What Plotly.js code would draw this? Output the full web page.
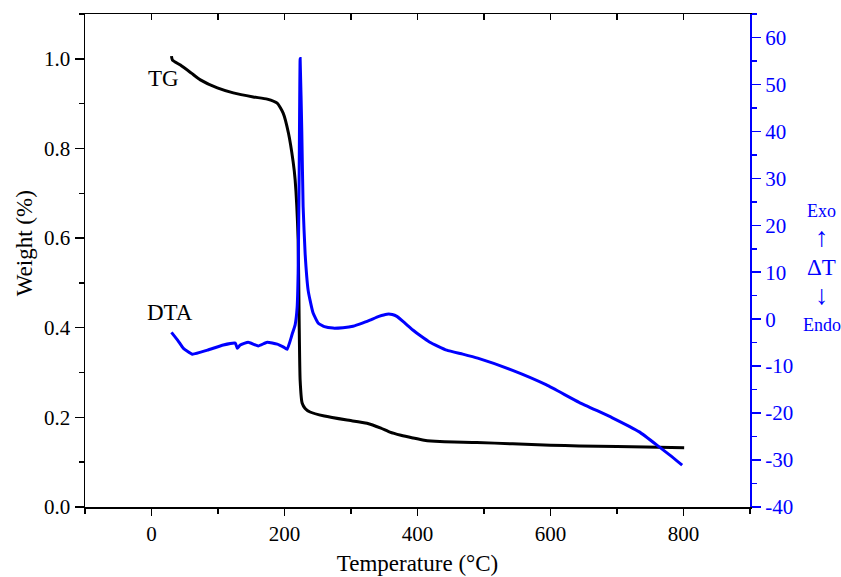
<!DOCTYPE html>
<html>
<head>
<meta charset="utf-8">
<script src="https://cdn.plot.ly/plotly-3.0.1.min.js"></script>
<style>
html,body{margin:0;padding:0;background:#fff}
#chart{width:841px;height:577px}
#chart text{font-family:"Liberation Serif","Times New Roman",serif !important}
</style>
</head>
<body>
<div id="chart"></div>
<script>
// TG (weight fraction) vs temperature
const tgTemp = [30, 31.5, 43.5, 60, 73.5, 99, 123, 153, 174, 189, 198, 206, 213, 216, 220.5, 222, 223.5, 226.5, 231, 238.5, 260, 294, 324, 345, 358.5, 375, 393, 410, 433.5, 489, 543, 600, 643, 700, 743, 801];
const tgWeight = [1.006, 0.997, 0.986, 0.968, 0.953, 0.935, 0.924, 0.915, 0.910, 0.901, 0.879, 0.834, 0.770, 0.730, 0.596, 0.42, 0.283, 0.232, 0.220, 0.212, 0.203, 0.194, 0.187, 0.176, 0.167, 0.160, 0.154, 0.149, 0.146, 0.144, 0.141, 0.138, 0.136, 0.135, 0.134, 0.132];
// DTA (ΔT) vs temperature
const dtaTemp = [30, 40, 48, 61.5, 84, 108, 126, 129, 133.5, 145.5, 160.5, 174, 189, 198, 204, 211.5, 216, 219, 220.5, 222, 223.5, 226, 228, 231, 235.5, 238.5, 243, 250.5, 260, 273, 288, 303, 316, 328.5, 342, 354, 362, 369, 380, 393, 405, 418.5, 444, 468, 490.5, 543, 594, 643, 693, 733.5, 763.5, 780, 798];
const dtaValue = [-2.8, -4.6, -6.2, -7.45, -6.6, -5.5, -5.1, -6.2, -5.5, -4.9, -5.7, -4.9, -5.3, -5.9, -6.4, -3.2, -1.2, 2.5, 9.8, 30, 55.5, 40, 24, 14, 6.2, 4.0, 1.3, -0.8, -1.6, -1.9, -1.8, -1.5, -0.9, -0.2, 0.6, 1.06, 1.0, 0.6, -0.7, -2.3, -3.6, -4.9, -6.6, -7.45, -8.3, -10.9, -14.0, -17.7, -21.0, -24.0, -27.2, -29.0, -31.1];
const rightTicks = [-40, -30, -20, -10, 0, 10, 20, 30, 40, 50, 60];
const rightTickText = ["-40", "-30", "-20", "-10", "0", "10", "20", "30", "40", "50", "60"];
const leftTicks = [0, 0.2, 0.4, 0.6, 0.8, 1.0];
const leftTickText = ["0.0", "0.2", "0.4", "0.6", "0.8", "1.0"];
const xTicks = [0, 200, 400, 600, 800];

const font = 'Liberation Serif';
const blue = '#0000ff';

const traces = [
  {x: tgTemp, y: tgWeight, type: 'scatter', mode: 'lines', line: {color: '#000', width: 3, shape: 'spline', smoothing: 0.5}, xaxis: 'x', yaxis: 'y', showlegend: false, hoverinfo: 'skip'},
  {x: dtaTemp, y: dtaValue, type: 'scatter', mode: 'lines', line: {color: blue, width: 3, shape: 'spline', smoothing: 0.4}, xaxis: 'x', yaxis: 'y2', showlegend: false, hoverinfo: 'skip'},
  {x: [], y: [], xaxis: 'x2', yaxis: 'y', showlegend: false}
];

const layout = {
  width: 841, height: 577,
  margin: {l: 85, r: 91, t: 14, b: 70},
  paper_bgcolor: '#fff', plot_bgcolor: '#fff',
  font: {family: font, size: 21, color: '#000'},
  showlegend: false,
  xaxis: {
    range: [-100, 900], tickvals: xTicks, ticks: 'outside', ticklen: 7, tickwidth: 1.5, tickcolor: '#000',
    minor: {dtick: 100, tick0: 0, ticks: 'outside', ticklen: 5, tickwidth: 1.5, tickcolor: '#000'},
    showline: true, linecolor: '#000', linewidth: 1.5, mirror: true, showgrid: false, zeroline: false,
    tickfont: {family: font, size: 21, color: '#000'}, title: {text: 'Temperature (°C)', font: {family: font, size: 23, color: '#000'}, standoff: 10}
  },
  xaxis2: {
    overlaying: 'x', side: 'top', range: [-100, 900], dtick: 100, tick0: 0, ticks: 'inside', ticklen: 6, tickwidth: 1.5, tickcolor: '#000',
    showticklabels: false, showline: false, showgrid: false, zeroline: false
  },
  yaxis: {
    range: [0, 1.1], tickvals: leftTicks, ticktext: leftTickText, ticks: 'outside', ticklen: 9, tickwidth: 1.5, tickcolor: '#000',
    minor: {dtick: 0.1, tick0: 0, ticks: 'outside', ticklen: 5, tickwidth: 1.5, tickcolor: '#000'},
    showline: true, linecolor: '#000', linewidth: 1.5, showgrid: false, zeroline: false,
    tickfont: {family: font, size: 21, color: '#000'}
  },
  yaxis2: {
    overlaying: 'y', side: 'right', range: [-40, 65], tickvals: rightTicks, ticktext: rightTickText,
    ticks: 'outside', ticklen: 9, tickwidth: 1.5, tickcolor: blue,
    minor: {dtick: 5, tick0: 0, ticks: 'outside', ticklen: 5, tickwidth: 1.5, tickcolor: blue},
    showline: true, linecolor: blue, linewidth: 2, showgrid: false, zeroline: false,
    tickfont: {family: font, size: 21, color: blue}
  },
  annotations: [
    {text: 'Weight (%)', x: -0.0917, y: 0.535, xref: 'paper', yref: 'paper', xanchor: 'center', yanchor: 'middle', textangle: -90, showarrow: false, font: {family: font, size: 23, color: '#000'}},
    {text: 'TG', x: 18, y: 0.957, xref: 'x', yref: 'y', showarrow: false, font: {family: font, size: 23, color: '#000'}},
    {text: 'DTA', x: 28, y: 0.435, xref: 'x', yref: 'y', showarrow: false, font: {family: font, size: 23, color: '#000'}},
    {text: 'Exo', x: 1.108, y: 0.600, xref: 'paper', yref: 'paper', xanchor: 'center', yanchor: 'middle', showarrow: false, font: {family: font, size: 18, color: blue}},
    {text: '↑', x: 1.108, y: 0.548, xref: 'paper', yref: 'paper', xanchor: 'center', yanchor: 'middle', showarrow: false, font: {family: font, size: 27, color: blue}},
    {text: 'ΔT', x: 1.108, y: 0.485, xref: 'paper', yref: 'paper', xanchor: 'center', yanchor: 'middle', showarrow: false, font: {family: font, size: 23, color: blue}},
    {text: '↓', x: 1.108, y: 0.430, xref: 'paper', yref: 'paper', xanchor: 'center', yanchor: 'middle', showarrow: false, font: {family: font, size: 27, color: blue}},
    {text: 'Endo', x: 1.108, y: 0.369, xref: 'paper', yref: 'paper', xanchor: 'center', yanchor: 'middle', showarrow: false, font: {family: font, size: 18, color: blue}}
  ]
};

Plotly.newPlot('chart', traces, layout, {staticPlot: true, displayModeBar: false});
</script>
</body>
</html>
